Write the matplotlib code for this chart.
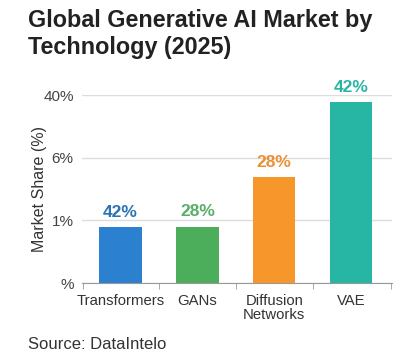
import matplotlib.pyplot as plt
import numpy as np

plt.rcParams['font.family'] = ['Liberation Sans', 'DejaVu Sans']

# data (bar heights in axis units, axis ticks are unevenly labelled)
categories = ["Transformers", "GANs", "Diffusion\nNetworks", "VAE"]
heights = [0.89, 0.90, 1.69, 2.89]
bar_labels = ["42%", "28%", "28%", "42%"]
y_ticks = [0, 1, 2, 3]
y_tick_labels = ["%", "1%", "6%", "40%"]

bar_colors = ["#2b80d0", "#4cae5a", "#f7962a", "#27b5a4"]
text_colors = ["#2a73b5", "#5aae6a", "#ec8f36", "#2bb5a5"]

fig = plt.figure(figsize=(4, 3.62), dpi=100)
ax = fig.add_axes([0.205, 0.218, 0.775, 0.519])

x = np.arange(len(categories))
ax.bar(x, heights, width=0.55, color=bar_colors, zorder=3)
for xi, h, lab, c in zip(x, heights, bar_labels, text_colors):
    ax.text(xi, h + 0.12, lab, ha="center", va="bottom", fontsize=12.5,
            fontweight="bold", color=c, clip_on=False)

ax.set_xlim(-0.5, 3.53)
ax.set_ylim(0, 3)
ax.set_yticks(y_ticks)
ax.set_yticklabels(y_tick_labels, fontsize=11, color="#444444")
ax.set_xticks(x)
ax.set_xticklabels(categories, fontsize=10.7, color="#333333", linespacing=1.0)
ax.set_xticks([-0.49, 0.5, 1.5, 2.5, 3.52], minor=True)
ax.tick_params(axis="x", which="major", length=0, pad=8)
ax.tick_params(axis="x", which="minor", length=4, color="#999999")
ax.tick_params(axis="y", length=0, pad=6)

ax.grid(axis="y", color="#dddddd", linewidth=1, zorder=0)
for s in ["left", "right", "top"]:
    ax.spines[s].set_visible(False)
ax.spines["bottom"].set_color("#999999")

ax.set_ylabel("Market Share (%)", fontsize=11.5, color="#333333")
ax.yaxis.set_label_coords(-0.113, 0.5)

fig.text(0.07, 0.975, "Global Generative AI Market by\nTechnology (2025)", fontsize=16.8,
         fontweight="bold", color="#222222", ha="left", va="top", linespacing=1.22)
fig.text(0.07, 0.028, "Source: DataIntelo", fontsize=12, color="#333333", ha="left", va="bottom")

plt.savefig("out.png", dpi=100)
